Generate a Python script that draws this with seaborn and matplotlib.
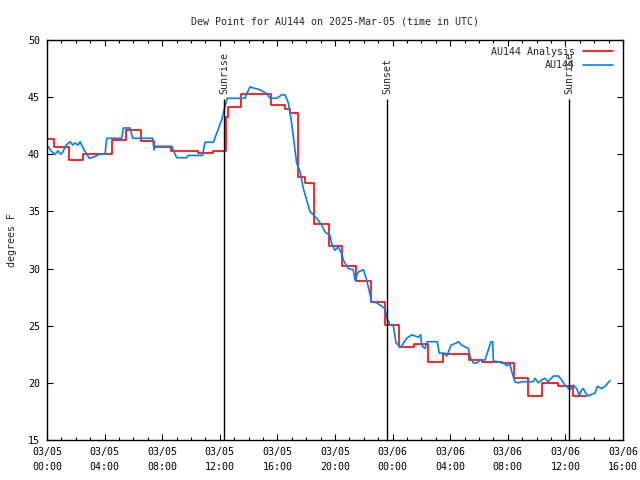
import matplotlib
matplotlib.use("Agg")
import matplotlib.pyplot as plt
import seaborn as sns
import pandas as pd
from matplotlib.ticker import MultipleLocator

# ---- data (hours since 2025-03-05 00:00 UTC) ----
obs_hours = [0, 0.35, 0.56, 0.76, 0.97, 1.1, 1.32, 1.6, 1.8, 1.94, 2.15, 2.3, 2.52, 2.94, 3.33,
             3.63, 4.03, 4.15, 5.19, 5.3, 5.76, 5.95, 7.34, 7.43, 7.5, 8.66, 9.0, 9.7, 9.8, 10.8,
             10.97, 11.55, 11.8, 12.13, 12.36, 12.52, 13.75, 13.87, 14.1, 14.33, 14.67, 15.0,
             15.26, 15.49, 15.95, 16.3, 16.53, 16.76, 16.99, 17.34, 17.57, 17.8, 18.03, 18.26,
             18.49, 18.73, 19.08, 19.31, 19.65, 19.77, 20.0, 20.23, 20.47, 20.58, 20.92, 21.27,
             21.39, 21.62, 21.97, 22.2, 22.55, 22.9, 23.24, 23.47, 23.63, 23.82, 24.05, 24.24,
             24.4, 24.56, 24.98, 25.33, 25.78, 25.95, 26.02, 26.25, 26.41, 27.1, 27.24, 27.64,
             27.76, 28.06, 28.45, 28.56, 28.8, 29.26, 29.42, 29.6, 29.88, 30.07, 30.42, 30.65,
             30.83, 30.95, 31.0, 31.34, 31.8, 31.92, 32.15, 32.27, 32.5, 32.73, 32.97, 33.77,
             33.89, 34.12, 34.35, 34.58, 34.81, 35.16, 35.51, 35.74, 35.97, 36.32, 36.55, 36.78,
             36.97, 37.13, 37.24, 37.41, 37.6, 37.83, 38.06, 38.22, 38.52, 38.75, 39.1]
obs_values = [40.8, 40.2, 40.0, 40.3, 40.0, 40.2, 40.8, 41.1, 40.8, 41.0, 40.8, 41.1, 40.5, 39.65, 39.8,
              40.0, 40.0, 41.4, 41.4, 42.3, 42.3, 41.4, 41.4, 40.4, 40.7, 40.7, 39.7, 39.7, 39.9, 39.9,
              41.05, 41.05, 41.9, 43.0, 44.2, 44.9, 44.9, 45.3, 45.9, 45.8, 45.7, 45.5,
              45.3, 44.9, 44.9, 45.2, 45.2, 44.5, 42.7, 39.2, 38.5, 37.0, 36.0, 35.0,
              34.7, 34.4, 33.8, 33.2, 32.9, 32.2, 31.6, 31.9, 31.3, 30.75, 30.0, 29.9,
              29.0, 29.7, 29.9, 29.0, 27.1, 27.0, 26.7, 26.5, 25.6, 25.1, 25.0, 23.5,
              23.3, 23.1, 23.9, 24.2, 24.0, 24.2, 23.3, 23.0, 23.6, 23.6, 22.6, 22.6,
              22.35, 23.3, 23.5, 23.6, 23.3, 23.0, 22.15, 21.75, 21.75, 22.0, 22.0, 22.9,
              23.6, 23.6, 21.9, 21.85, 21.65, 21.5, 21.65, 21.0, 20.1, 20.0, 20.1, 20.1,
              20.4, 20.0, 20.25, 20.4, 20.1, 20.6, 20.6, 20.25, 19.8, 19.4, 19.8, 19.5,
              18.9, 19.4, 19.5, 19.1, 18.85, 19.0, 19.1, 19.7, 19.5, 19.7, 20.2]

ana_hours = [0, 0.5, 1.5, 2.5, 4.5, 5.5, 6.55, 7.45, 8.6, 10.5, 11.5, 12.45, 12.55, 13.5, 15.55,
             16.5, 16.9, 17.45, 17.9, 18.55, 19.55, 20.5, 21.45, 22.5, 23.5, 24.45, 25.5, 26.45,
             27.5, 29.3, 30.2, 31.6, 32.4, 33.4, 34.4, 35.5, 36.5, 37.4]
ana_values = [41.3, 40.6, 39.5, 40.0, 41.25, 42.1, 41.2, 40.6, 40.3, 40.1, 40.25, 43.3, 44.1, 45.3, 44.3,
              44.0, 43.6, 38.0, 37.5, 33.9, 32.0, 30.2, 28.9, 27.1, 25.1, 23.1, 23.4, 21.8,
              22.5, 22.0, 21.8, 21.7, 20.4, 18.85, 20.0, 19.7, 18.85, 18.85]

event_hours = [12.29, 23.61, 36.25]
event_labels = ["Sunrise", "Sunset", "Sunrise"]

tick_hours = [0, 4, 8, 12, 16, 20, 24, 28, 32, 36, 40]
tick_labels = ["03/05\n00:00", "03/05\n04:00", "03/05\n08:00", "03/05\n12:00", "03/05\n16:00",
               "03/05\n20:00", "03/06\n00:00", "03/06\n04:00", "03/06\n08:00", "03/06\n12:00",
               "03/06\n16:00"]

# ---- styling ----
sns.set_style("ticks")
plt.rcParams['font.family'] = ['DejaVu Sans Mono']
FS = 7.2

fig = plt.figure(figsize=(6.4, 4.8), dpi=100)
ax = fig.add_axes([47 / 640, 1 - 440 / 480, 576 / 640, 400 / 480])

ana = pd.DataFrame({"hour": ana_hours, "value": ana_values})
obs = pd.DataFrame({"hour": obs_hours, "value": obs_values})

sns.lineplot(data=ana, x="hour", y="value", ax=ax, color="#ff0000", lw=1.2,
             drawstyle="steps-post", label="AU144 Analysis", sort=False, estimator=None)
sns.lineplot(data=obs, x="hour", y="value", ax=ax, color="#0080ff", lw=1.2,
             label="AU144", sort=False, estimator=None)

for h, lab in zip(event_hours, event_labels):
    ax.vlines(h, 15, 44.8, color="black", lw=1.0)
    ax.text(h, 45.3, lab, rotation=90, ha="center", va="bottom", fontsize=FS)

ax.set_xlim(0, 40)
ax.set_ylim(15, 50)
ax.set_xticks(tick_hours)
ax.set_xticklabels(tick_labels, fontsize=FS)
for lbl in ax.get_xticklabels():
    lbl.set_linespacing(1.6)
ax.xaxis.set_minor_locator(MultipleLocator(1))
ax.set_yticks([15, 20, 25, 30, 35, 40, 45, 50])
ax.set_yticklabels([str(v) for v in [15, 20, 25, 30, 35, 40, 45, 50]], fontsize=FS)
ax.tick_params(which="both", direction="in", top=True, right=True, colors="black", width=0.8)
ax.tick_params(which="major", length=4.5)
ax.tick_params(which="minor", length=2.5)
ax.tick_params(axis="x", which="major", pad=5)
ax.tick_params(axis="y", which="major", pad=5)
for s in ax.spines.values():
    s.set_visible(True)
    s.set_color("black")
    s.set_linewidth(1.0)

ax.set_xlabel("")
ax.set_ylabel("degrees F", fontsize=FS, labelpad=8)
ax.set_title("Dew Point for AU144 on 2025-Mar-05 (time in UTC)", fontsize=FS, pad=11)

leg = ax.legend(loc="upper right", frameon=False, markerfirst=False, fontsize=FS,
                handlelength=3.0, handletextpad=0.8, labelspacing=0.35,
                borderaxespad=0.3, bbox_to_anchor=(0.995, 1.0))

fig.savefig("out.png", dpi=100)
